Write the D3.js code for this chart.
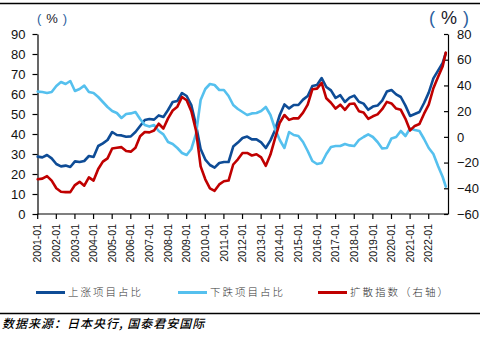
<!DOCTYPE html>
<html><head><meta charset="utf-8">
<script src="https://cdn.jsdelivr.net/npm/d3@7"></script>
<style>
html,body{margin:0;padding:0;background:#fff;}
svg{display:block;}
</style></head>
<body>
<svg id="c" width="480" height="343"></svg>
<script>
// Quarterly sampled months (2001-01 ... 2022-10) plus last month 2022-12
const months = [];
for (let y = 2001; y <= 2022; y++) for (const m of ["01","04","07","10"]) months.push(y + "-" + m);
months.push("2022-12");

// 上涨项目占比 (%), left axis
const upShare = [28.7,28.3,29.5,27.8,25,23.8,24.2,23.5,26.3,26,26.5,29,
  28.5,34,35.3,37,41,39.5,39.3,38.6,38.8,41,44,47,
  47.5,47.2,49.3,48.5,52,56,56.5,60.5,59,54.5,44.5,32.5,
  27.2,24.5,23.2,25.5,26,26,33.7,35.7,38,38.7,37.3,37.3,
  35.8,33,36.8,42,49.5,54.8,52.8,54.5,54.5,57.2,59,64,
  64.5,68,63.5,61.8,58,59.4,56,58.2,59.2,56.1,55.2,52.1,
  53.7,54.2,56.7,61.2,62,59.8,58.5,54.2,49,50,51,55.5,
  60.7,67.8,71.7,75.5,80.5];

// 下跌项目占比 (%), left axis
const downShare = [61.2,61,60.5,61,64,66,65,66.5,61.5,62.5,64.2,61,
  60.5,58.5,56,53.5,51.5,50.5,48,50,50.3,51,47.5,44.5,
  43.7,44.5,41.5,39.8,36,35,33,30.5,29.5,32.5,40,57,
  62.5,65,64.5,62,62,59,54.5,52.5,51,49.5,50.3,50.5,
  51.5,53.5,49.5,42.5,37,33,41,39.5,39,36,31.5,26.5,
  25,25.5,30,33.5,34,34,35,34.3,34,37,38.5,39.8,
  38.5,36,32.8,33,37.8,38.5,41.5,39,42.8,42,41.5,37.5,
  33,30,24,18.5,13.7];

// 扩散指数 (右轴)
const diffusion = [-33,-32.5,-30.5,-34,-40,-42.7,-43,-43,-37.5,-35,-38,-31.5,
  -34,-25,-19.3,-16.7,-9,-8.5,-8,-11,-11.5,-8.5,0.5,3.8,
  3.5,5,10.2,6.5,14.4,20.5,23.5,31,28.5,20,5,-23,
  -33,-40,-42,-37,-34.5,-34,-21.5,-17.5,-12.5,-12.5,-14.5,-13.5,
  -16,-22.5,-13.8,-1,11,17,13.2,14.4,14.4,18.8,25,37,
  37.5,42,30,26.5,22,25,21,25.5,26,20,19,14,
  16,17.5,21.5,27.2,26,22,21,14,5,8.5,10,18,
  25,37.8,46.5,55,65.5];

const xTickLabels = ["2001-01","2002-01","2003-01","2004-01","2005-01","2006-01","2007-01","2008-01","2009-01","2010-01","2011-01","2012-01","2013-01","2014-01","2015-01","2016-01","2017-01","2018-01","2019-01","2020-01","2021-01","2022-01"];
const leftTicks = [0,10,20,30,40,50,60,70,80,90];
const rightTicks = [-60,-40,-20,0,20,40,60,80];
const seriesNames = ["上涨项目占比","下跌项目占比","扩散指数（右轴）"];
const colors = ["#0e4c96","#55c0ee","#c00000"];

const svg = d3.select("#c");
const mIndex = s => { const [y, m] = s.split("-").map(Number); return (y - 2001) * 12 + (m - 1); };

const x = d3.scaleLinear().domain([0, 263]).range([37.7, 445.8]);
const yL = d3.scaleLinear().domain([0, 90]).range([214, 34]);
const yR = d3.scaleLinear().domain([-60, 80]).range([214, 34]);

// frame lines
svg.append("line").attr("x1",0).attr("x2",480).attr("y1",3.5).attr("y2",3.5).attr("stroke","#000").attr("stroke-width",1.3);
svg.append("line").attr("x1",0).attr("x2",480).attr("y1",313.5).attr("y2",313.5).attr("stroke","#000").attr("stroke-width",1.3);

const tickFont = "'Liberation Sans', Arial, sans-serif";

// Left axis
const gL = svg.append("g").attr("transform","translate(37.5,0)")
  .call(d3.axisLeft(yL).tickValues(leftTicks).tickSize(5).tickSizeOuter(0).tickPadding(7));
gL.selectAll("text").attr("font-family",tickFont).attr("font-size",13).attr("fill","#111");
gL.selectAll("line,path").attr("stroke","#000").attr("stroke-width",1.2);

// Right axis
const gR = svg.append("g").attr("transform","translate(448,0)")
  .call(d3.axisRight(yR).tickValues(rightTicks).tickSizeInner(-4).tickSizeOuter(0).tickPadding(9));
gR.selectAll("text").attr("font-family",tickFont).attr("font-size",13).attr("fill","#111");
gR.selectAll("line,path").attr("stroke","#000").attr("stroke-width",1.2);

// Bottom axis
const gB = svg.append("g").attr("transform","translate(0,214)");
gB.append("line").attr("x1",37.5).attr("x2",448).attr("y1",0).attr("y2",0).attr("stroke","#000").attr("stroke-width",1.2);
const xt = gB.selectAll("g.t").data(xTickLabels).enter().append("g")
  .attr("transform", d => `translate(${x(mIndex(d))},0)`);
xt.append("line").attr("y1",0).attr("y2",5).attr("stroke","#000").attr("stroke-width",1.2);
xt.append("text").text(d => d)
  .attr("transform","rotate(-90)").attr("x",-10).attr("dy","0.35em")
  .attr("text-anchor","end").attr("font-family",tickFont).attr("font-size",10.5).attr("fill","#111");

// Unit labels
function unit(xp, yp, size, sp) {
  const t = svg.append("text").attr("x",xp).attr("y",yp).attr("text-anchor","middle")
    .attr("font-family","'Liberation Sans', Arial, sans-serif").attr("font-size",size);
  t.append("tspan").text("(").attr("fill","#2c5f9e");
  t.append("tspan").text("%").attr("fill","#1a1a2a").attr("dx",sp);
  t.append("tspan").text(")").attr("fill","#2c5f9e").attr("dx",sp);
}
unit(52, 23, 13, 5);
unit(449, 24, 18, 6);

// Lines
const lineL = d3.line().x((d,i) => x(mIndex(months[i]))).y(d => yL(d));
const lineR = d3.line().x((d,i) => x(mIndex(months[i]))).y(d => yR(d));
[[upShare, lineL, 0], [downShare, lineL, 1], [diffusion, lineR, 2]].forEach(([data, gen, k]) => {
  svg.append("path").datum(data).attr("d", gen).attr("fill","none")
    .attr("stroke", colors[k]).attr("stroke-width",2.6)
    .attr("stroke-linejoin","round").attr("stroke-linecap","round");
});

// Legend
const legX = [36, 178, 318];
seriesNames.forEach((name, k) => {
  const g = svg.append("g").attr("transform", `translate(${legX[k]},292.5)`);
  g.append("line").attr("x1",0).attr("x2",29).attr("stroke",colors[k]).attr("stroke-width",3);
  g.append("text").text(name).attr("x",32).attr("dy","0.36em")
    .attr("font-family","'Noto Sans CJK SC', sans-serif").attr("font-size",10.5)
    .attr("font-weight",300)
    .attr("letter-spacing","2px").attr("fill","#333");
});

// Source
svg.append("text").text("数据来源：日本央行, 国泰君安国际")
  .attr("x",2).attr("y",328).attr("font-family","'Noto Sans CJK SC', sans-serif")
  .attr("font-size",12).attr("font-style","italic").attr("letter-spacing","1px")
  .attr("font-weight",500).attr("fill","#000");
</script>
</body></html>
